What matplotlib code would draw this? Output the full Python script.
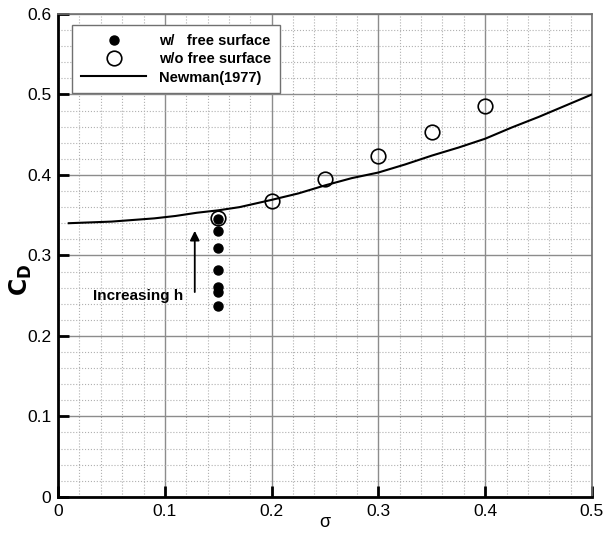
import numpy as np
import matplotlib.pyplot as plt
from matplotlib.ticker import MultipleLocator

plt.rcParams['font.family'] = ['Liberation Sans', 'DejaVu Sans']

# drag coefficient with free surface, sigma = 0.15, several depths h
sigma_fs = [0.15, 0.15, 0.15, 0.15, 0.15, 0.15, 0.15]
cd_fs = [0.345, 0.330, 0.309, 0.282, 0.261, 0.255, 0.237]

# without free surface
sigma_nofs = [0.15, 0.20, 0.25, 0.30, 0.35, 0.40]
cd_nofs = [0.346, 0.368, 0.395, 0.423, 0.453, 0.486]

# Newman (1977)
sigma_newman = [0.01, 0.03, 0.05, 0.07, 0.09, 0.11, 0.13, 0.15, 0.17, 0.20,
                0.225, 0.25, 0.275, 0.30, 0.325, 0.35, 0.375, 0.40, 0.425,
                0.45, 0.475, 0.50]
cd_newman = [0.340, 0.341, 0.342, 0.344, 0.346, 0.349, 0.353, 0.356, 0.360,
             0.369, 0.377, 0.387, 0.396, 0.403, 0.413, 0.424, 0.434, 0.445,
             0.459, 0.472, 0.486, 0.500]

x_ticks = [0, 0.1, 0.2, 0.3, 0.4, 0.5]
x_tick_labels = ['0', '0.1', '0.2', '0.3', '0.4', '0.5']
y_ticks = [0, 0.1, 0.2, 0.3, 0.4, 0.5, 0.6]
y_tick_labels = ['0', '0.1', '0.2', '0.3', '0.4', '0.5', '0.6']

fig = plt.figure(figsize=(6.05, 5.36), dpi=100)
ax = fig.add_axes([0.096, 0.073, 0.8825, 0.901])

ax.plot(sigma_newman, cd_newman, color='black', lw=1.5, label='Newman(1977)', zorder=3)
ax.plot(sigma_fs, cd_fs, 'o', color='black', ms=6.5, label='w/   free surface', zorder=4)
ax.plot(sigma_nofs, cd_nofs, 'o', mfc='none', mec='black', mew=1.2, ms=10.5,
        label='w/o free surface', zorder=5)

ax.set_xlim(0, 0.5)
ax.set_ylim(0, 0.6)
ax.set_xticks(x_ticks, x_tick_labels)
ax.set_yticks(y_ticks, y_tick_labels)
ax.xaxis.set_minor_locator(MultipleLocator(0.02))
ax.yaxis.set_minor_locator(MultipleLocator(0.02))

ax.grid(which='major', color='#8c8c8c', lw=1.0, ls='-')
ax.grid(which='minor', color='#b0b0b0', lw=0.8, ls=':')
ax.set_axisbelow(True)

ax.tick_params(which='major', direction='in', length=8, width=2, labelsize=12.5,
               pad=5, top=False, right=False)
ax.tick_params(which='minor', direction='in', length=0)

for side in ['left', 'bottom']:
    ax.spines[side].set_linewidth(2)
    ax.spines[side].set_color('black')
for side in ['top', 'right']:
    ax.spines[side].set_linewidth(1.2)
    ax.spines[side].set_color('#707070')

ax.set_xlabel('σ', fontsize=13)
ax.xaxis.set_label_coords(0.5, -0.035)
ax.set_ylabel(r'$\mathbf{C_D}$', fontsize=17)
ax.yaxis.set_label_coords(-0.045, 0.45)

# depth trend arrow
ax.annotate('', xy=(0.128, 0.334), xytext=(0.128, 0.251),
            arrowprops=dict(arrowstyle='-|>', color='black', lw=1.3,
                            mutation_scale=14))
ax.text(0.117, 0.250, 'Increasing h', fontsize=11, fontweight='bold',
        ha='right', va='center')

handles, labels = ax.get_legend_handles_labels()
order = [1, 2, 0]
leg = ax.legend([handles[i] for i in order], [labels[i] for i in order],
                loc='upper left', bbox_to_anchor=(0.026, 0.977),
                borderaxespad=0,
                prop={'weight': 'bold', 'size': 10.5}, fancybox=False,
                framealpha=1, edgecolor='#707070', handlelength=4.5,
                labelspacing=0.3, borderpad=0.6, handletextpad=0.9)
leg.get_frame().set_linewidth(1.0)

fig.savefig('out.png', dpi=100)
